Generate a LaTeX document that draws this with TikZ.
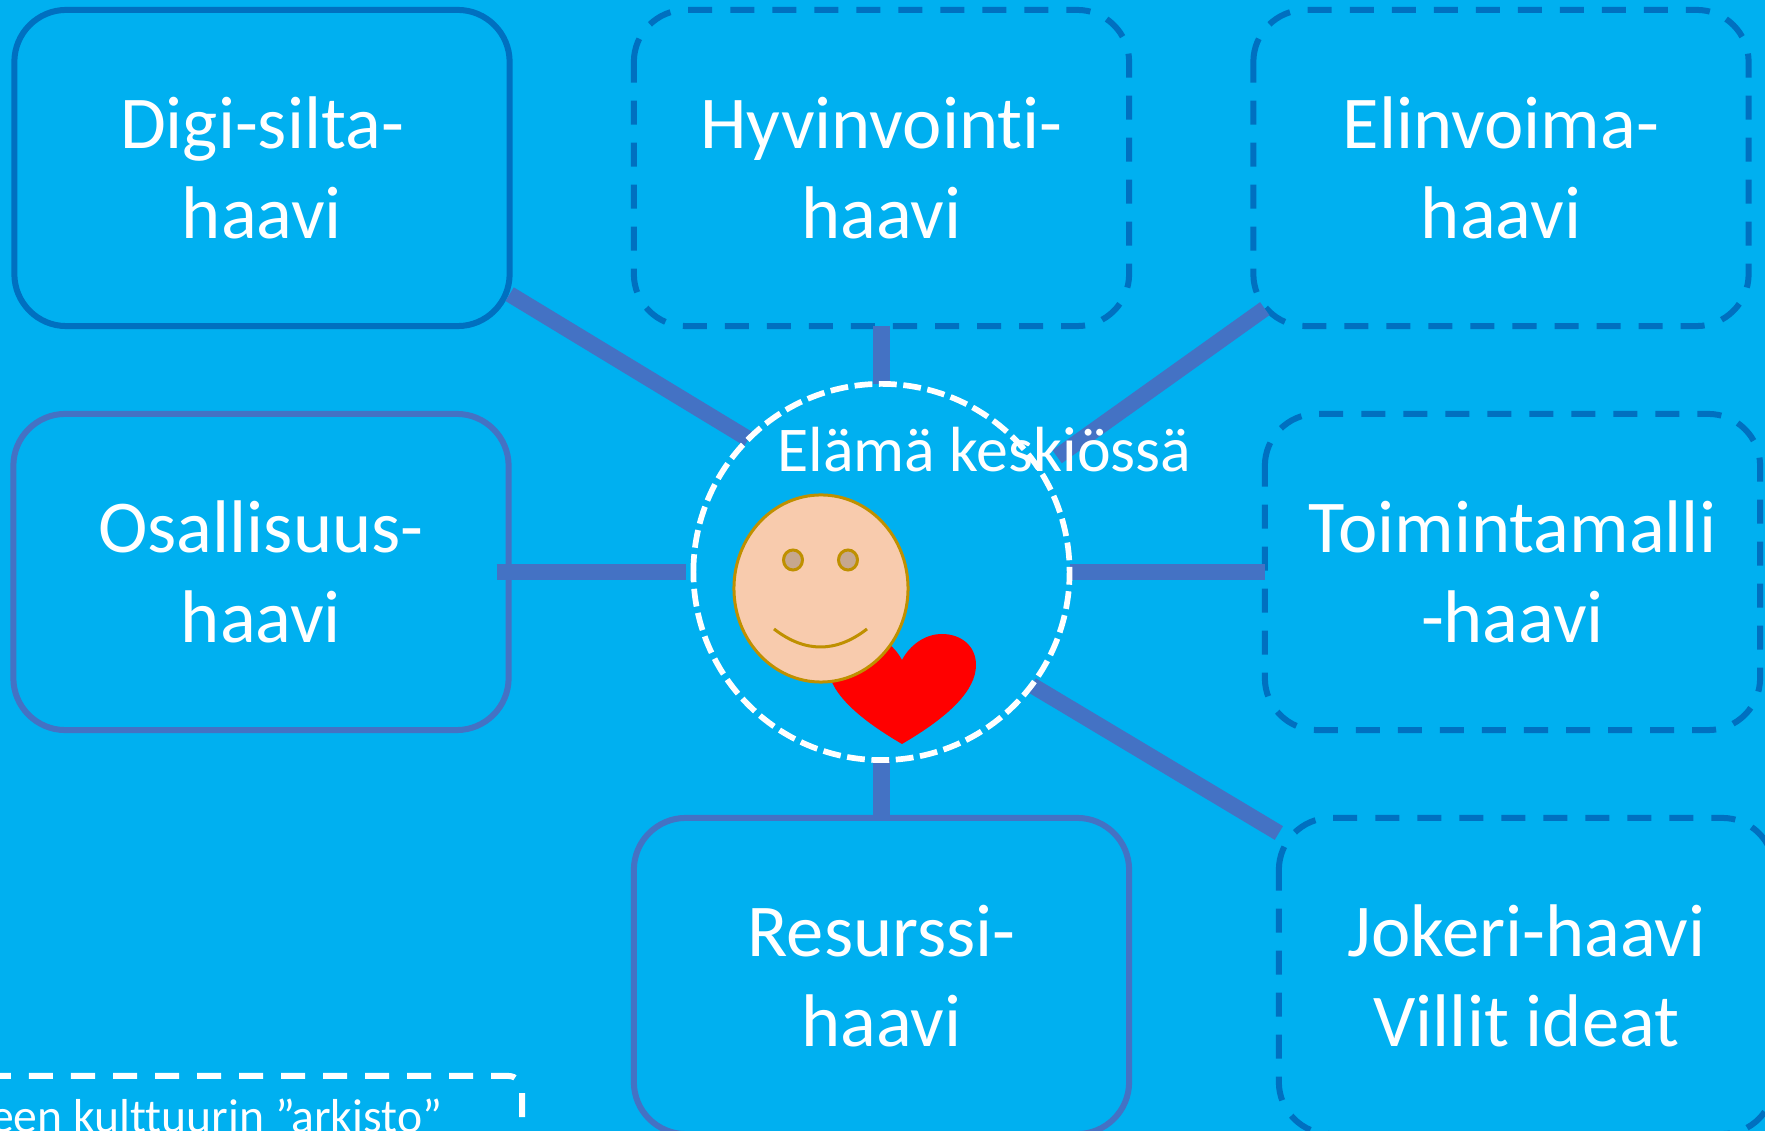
\documentclass[tikz,border=0pt]{standalone}
\usepackage{fontspec}
\setmainfont[RawFeature={-liga}]{Carlito}
\usetikzlibrary{shapes.geometric, positioning}
\definecolor{skybg}{HTML}{00B0F0}
\definecolor{darkedge}{HTML}{0070C0}
\definecolor{softedge}{HTML}{4472C4}
\definecolor{facefill}{HTML}{F8CBAD}
\definecolor{faceedge}{HTML}{BF9000}
\definecolor{eyefill}{HTML}{C6A78E}
\tikzset{
  dashframe/.style 2 args={append after command={\pgfextra{
    \draw[draw=#1, line width=0.06cm, dash pattern=on 0.24cm off 0.18cm, sharp corners]
      ([yshift=-#2]\tikzlastnode.north west) arc[start angle=180, delta angle=-90, radius=#2]
      -- ([xshift=-#2]\tikzlastnode.north east) arc[start angle=90, delta angle=-90, radius=#2]
      -- ([yshift=#2]\tikzlastnode.south east) arc[start angle=0, delta angle=-90, radius=#2]
      -- ([xshift=#2]\tikzlastnode.south west) arc[start angle=-90, delta angle=-90, radius=#2]
      -- cycle;}}},
  haavi/.style={draw=softedge, line width=0.06cm, rounded corners=0.52cm, minimum width=4.95cm,
    minimum height=3.16cm, outer sep=0pt, inner sep=0pt, align=center, text=white,
    font=\fontsize{21.2}{25.6}\selectfont},
  solidhaavi/.style={haavi, draw=darkedge},
  dashhaavi/.style={haavi, draw=none, dashframe={darkedge}{0.52cm}},
  hubring/.style={draw=white, line width=0.057cm, dash pattern=on 0.178cm off 0.066cm},
  spoke/.style={draw=softedge, line width=0.16cm},
  faceline/.style={draw=faceedge, line width=0.03cm},
}
\begin{document}
\begin{tikzpicture}[x=0.01cm, y=-0.01cm]
\fill[skybg] (0,0) rectangle (1765,1131);
\useasboundingbox (0,0) rectangle (1765,1131);
\clip (0,0) rectangle (1765,1131);

% The eight nets
\node[solidhaavi] (digi) at (262,168) {Digi-silta-\\haavi};
\node[dashhaavi] (hyvinvointi) at (881.5,168) {Hyvinvointi-\\haavi};
\node[dashhaavi] (elinvoima) at (1501,168) {Elinvoima-\\haavi};
\node[haavi] (osallisuus) at (261,572) {Osallisuus-\\haavi};
\node[dashhaavi] (toiminta) at (1512.5,572) {Toimintamalli\\-haavi};
\node[haavi] (resurssi) at (881.5,976) {Resurssi-\\haavi};
\node[dashhaavi] (jokeri) at (1526.5,976) {Jokeri-haavi\\Villit ideat};

\node[circle, minimum size=3.76cm, inner sep=0pt, outer sep=0pt] (hub) at (881.5,572) {};

% Spokes
\draw[spoke] (digi.-27.7) -- (hub.135);
\draw[spoke] (hyvinvointi.south) -- (hub.north);
\draw[spoke, shorten <=-0.14cm, shorten >=0.22cm] (elinvoima.211.3) -- (hub.33);
\draw[spoke, shorten <=-0.12cm, shorten >=0.07cm] (osallisuus.east) -- (hub.west);
\draw[spoke] (toiminta.west) -- (hub.east);
\draw[spoke] (resurssi.north) -- (hub.south);
\draw[spoke] (jokeri.150.7) -- (hub.-37.9);

\draw[hubring] (hub.west) arc[start angle=180, delta angle=-360, radius=1.88cm];
\node[text=white, font=\fontsize{18.15}{22}\selectfont, anchor=base] (hubtext) at (984.5,472) {Elämä keskiössä};

% Heart and face
\fill[red] (902,744) .. controls (950,716) and (976,690) .. (976,665)
  .. controls (976,645) and (960,634) .. (942,634)
  .. controls (925,634) and (910,645) .. (902,660)
  .. controls (894,645) and (879,634) .. (862,634)
  .. controls (844,634) and (828,645) .. (828,665)
  .. controls (828,690) and (854,716) .. (902,744) -- cycle;
\node[ellipse, faceline, fill=facefill, minimum width=1.74cm, minimum height=1.87cm,
  inner sep=0pt, outer sep=0pt] (face) at (821,588.5) {};
\foreach \i in {793,848} {
  \node[ellipse, faceline, fill=eyefill, minimum width=0.19cm, minimum height=0.2cm,
    inner sep=0pt, outer sep=0pt] (eye\i) at (\i,560) {};
}
\draw[faceline] (774,629) .. controls (805,653) and (836,653) .. (867,629);

% Archive corner
\node[minimum width=5.69cm, minimum height=2cm, inner sep=0pt, outer sep=0pt,
  dashframe={white}{0.14cm}] (arkisto) at (237.5,1176) {};
\node[text=white, font=\fontsize{13.55}{17}\selectfont, anchor=base east, inner sep=0pt] (arkistotext) at (443,1133) {een kulttuurin ”arkisto”};
\end{tikzpicture}
\end{document}
